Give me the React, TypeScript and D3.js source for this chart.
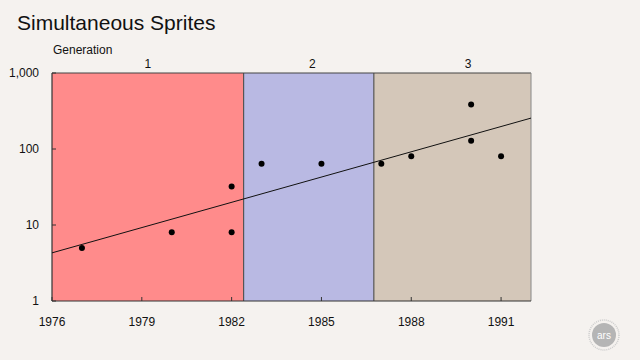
import React from "react";
import * as d3 from "d3";

// data
const years = [1977, 1980, 1982, 1982, 1983, 1985, 1987, 1988, 1990, 1990, 1991];
const sprites = [5, 8, 32, 8, 64, 64, 64, 80, 128, 384, 80];
const generations = ["1", "2", "3"];
const genStart = [1976, 1982.4, 1986.75];
const genEnd = [1982.4, 1986.75, 1992];
const genLabelYear = [1979.2, 1984.7, 1989.9];
const genColors = ["#ff8b8b", "#b9b9e3", "#d4c7b9"];
const trendYears = [1976, 1992];
const trendValues = [4.3, 255];
const xTicks = [1976, 1979, 1982, 1985, 1988, 1991];
const yTicks = [1, 10, 100, 1000];

const W = 640;
const H = 360;
const left = 52;
const right = 531;
const top = 73;
const bottom = 301;

export default function App() {
  const x = d3.scaleLinear().domain([1976, 1992]).range([left, right]);
  const y = d3.scaleLog().domain([1, 1000]).range([bottom, top]);
  const fmt = d3.format(",");
  const font = "Liberation Sans, Arial, sans-serif";

  const trend = d3
    .line<number>()
    .x((d, i) => x(trendYears[i]))
    .y((d) => y(d))(trendValues);

  return (
    <div style={{ position: "absolute", left: 0, top: 0 }}>
      <svg width={W} height={H} style={{ display: "block" }} fontFamily={font}>
        <rect width={W} height={H} fill="#f5f2ef" />
        <text x={17} y={30} fontSize={21} fill="#111">
          Simultaneous Sprites
        </text>
        <text x={53} y={54} fontSize={12} fill="#111">
          Generation
        </text>

        {/* generation bands */}
        {generations.map((g, i) => (
          <g key={g}>
            <rect
              x={x(genStart[i])}
              y={top}
              width={x(genEnd[i]) - x(genStart[i])}
              height={bottom - top}
              fill={genColors[i]}
            />
            <text x={x(genLabelYear[i])} y={68} fontSize={12} textAnchor="middle" fill="#111">
              {g}
            </text>
          </g>
        ))}
        {genEnd.slice(0, 2).map((e) => (
          <line key={e} x1={x(e)} x2={x(e)} y1={top} y2={bottom} stroke="#555" strokeWidth={1.2} />
        ))}

        {/* frame */}
        <line x1={left} x2={right} y1={top} y2={top} stroke="#444" strokeWidth={1.2} />
        <line x1={right} x2={right} y1={top} y2={bottom} stroke="#888" />
        <line x1={left} x2={left} y1={top} y2={bottom} stroke="#333" strokeWidth={1.2} />
        <line x1={left} x2={right} y1={bottom} y2={bottom} stroke="#333" strokeWidth={1.2} />

        {/* y axis */}
        {yTicks.map((t) => (
          <g key={t}>
            <line x1={left} x2={left + 4} y1={y(t)} y2={y(t)} stroke="#333" />
            <text x={left - 13} y={y(t) + 4} fontSize={12} textAnchor="end" fill="#111">
              {fmt(t)}
            </text>
          </g>
        ))}

        {/* x axis */}
        {xTicks.map((t) => (
          <g key={t}>
            <line x1={x(t)} x2={x(t)} y1={bottom} y2={bottom - 4} stroke="#333" />
            <text x={x(t)} y={bottom + 25} fontSize={12} textAnchor="middle" fill="#111">
              {t}
            </text>
          </g>
        ))}

        {/* trend */}
        <path d={trend ?? ""} fill="none" stroke="#111" strokeWidth={1} />

        {/* points */}
        {years.map((yr, i) => (
          <circle key={i} cx={x(yr)} cy={y(sprites[i])} r={3} fill="#000" />
        ))}

        {/* logo */}
        <g transform="translate(604,335)">
          <circle r={15} fill="none" stroke="#ccc" strokeWidth={1.5} strokeDasharray="1 1" />
          <circle r={12} fill="#b5b5b5" />
          <text y={4} fontSize={10} textAnchor="middle" fill="#fff">
            ars
          </text>
        </g>
      </svg>
    </div>
  );
}
